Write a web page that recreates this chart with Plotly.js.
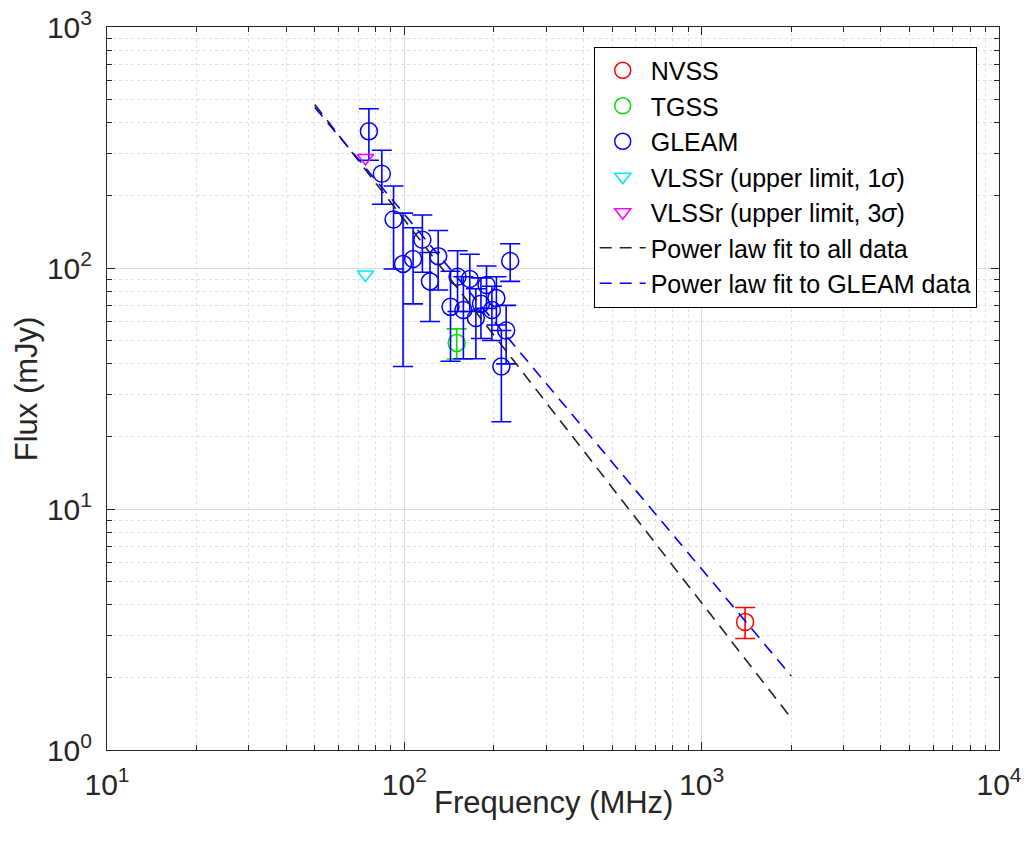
<!DOCTYPE html>
<html><head><meta charset="utf-8">
<script src="https://cdn.plot.ly/plotly-3.0.1.min.js"></script>
<style>html,body{margin:0;padding:0;background:#fff}</style>
</head><body><div id="chart" style="width:1026px;height:852px"></div>
<script>
// ---- data ----
const nvssFreq = [1400];
const nvssFlux = [3.4];
const nvssErr = [0.5];

const tgssFreq = [150];
const tgssFlux = [48.9];
const tgssErr = [7];

const gleamFreq = [76, 84, 92, 99, 107, 115, 122, 130, 143, 151, 158, 166, 174, 181, 189, 197, 204, 212, 220, 227];
const gleamFlux = [369, 246, 159, 104, 109, 131, 88, 112, 69, 92, 67, 90, 62, 71, 85, 67, 75, 39, 55, 107];
const gleamErr  = [89, 62, 60, 65, 38, 35, 28, 31, 28, 26, 25, 24, 20, 20, 17, 17, 17, 16, 15, 19];

const vlss1Freq = [74];
const vlss1Flux = [94];
const vlss3Freq = [74];
const vlss3Flux = [286];

const fitFreq = [50, 2000];
const fitAllFlux = [477, 1.355];
const fitGleamFlux = [464, 2.03];

const xTickVals = [10, 100, 1000, 10000];
const xTickText = ['10<sup>1</sup>', '10<sup>2</sup>', '10<sup>3</sup>', '10<sup>4</sup>'];
const yTickVals = [1, 10, 100, 1000];
const yTickText = ['10<sup>0</sup>', '10<sup>1</sup>', '10<sup>2</sup>', '10<sup>3</sup>'];

const xTitle = 'Frequency (MHz)';
const yTitle = 'Flux (mJy)';

// ---- helpers ----
function minorVals(lo, hi) {
  const v = [];
  for (let e = lo; e < hi; e++) for (let m = 2; m <= 9; m++) v.push(m * Math.pow(10, e));
  return v;
}
const FONT = 'Liberation Sans, Arial, Helvetica, sans-serif';
const AX = '#262626';

function pts(name, x, y, err, color, symbol, size) {
  const t = {
    type: 'scatter', mode: 'markers', name: name, x: x, y: y,
    marker: {symbol: symbol, size: size, color: color, line: {color: color, width: 1.5}},
    cliponaxis: false
  };
  if (err) t.error_y = {type: 'data', array: err, visible: true, color: color, thickness: 1.6, width: 10};
  return t;
}

const data = [
  pts('NVSS', nvssFreq, nvssFlux, nvssErr, '#ff0000', 'circle-open', 17),
  pts('TGSS', tgssFreq, tgssFlux, tgssErr, '#00e000', 'circle-open', 17),
  pts('GLEAM', gleamFreq, gleamFlux, gleamErr, '#0000ff', 'circle-open', 17),
  pts('VLSSr (upper limit, 1<i>σ</i>)', vlss1Freq, vlss1Flux, null, '#00e8f0', 'triangle-down-open', 14),
  pts('VLSSr (upper limit, 3<i>σ</i>)', vlss3Freq, vlss3Flux, null, '#ff00ff', 'triangle-down-open', 14),
  {type: 'scatter', mode: 'lines', name: 'Power law fit to all data', x: fitFreq, y: fitAllFlux,
   line: {color: '#222222', width: 1.6, dash: '12px,8px'}},
  {type: 'scatter', mode: 'lines', name: 'Power law fit to GLEAM data', x: fitFreq, y: fitGleamFlux,
   line: {color: '#0000ff', width: 1.6, dash: '12px,8px'}}
];

function axis(range, tv, tt, minorRange) {
  return {
    type: 'log', range: range, tickmode: 'array', tickvals: tv, ticktext: tt,
    ticks: 'inside', ticklen: 8, tickwidth: 1, tickcolor: AX,
    showline: true, linecolor: AX, linewidth: 1, mirror: 'ticks',
    showgrid: true, gridcolor: '#dcdcdc', gridwidth: 1,
    zeroline: false,
    minor: {tickmode: 'array', tickvals: minorVals(minorRange[0], minorRange[1]),
            ticks: 'inside', ticklen: 5, tickcolor: AX,
            showgrid: true, gridcolor: '#e0e0e0', griddash: 'dot', gridwidth: 1},
    tickfont: {family: FONT, size: 30, color: AX},
    ticklabelstandoff: 8
  };
}

const layout = {
  width: 1026, height: 852,
  margin: {l: 107, r: 27, t: 27, b: 102},
  paper_bgcolor: '#ffffff', plot_bgcolor: '#ffffff',
  showlegend: true,
  xaxis: axis([1, 4], xTickVals, xTickText, [1, 4]),
  yaxis: axis([0, 3], yTickVals, yTickText, [0, 3]),
  annotations: [
    {text: xTitle, xref: 'paper', yref: 'paper', x: 0.5, y: -0.072, xanchor: 'center', yanchor: 'middle',
     showarrow: false, font: {family: FONT, size: 31, color: AX}},
    {text: yTitle, xref: 'paper', yref: 'paper', x: -0.090, y: 0.5, xanchor: 'center', yanchor: 'middle',
     textangle: -90, showarrow: false, font: {family: FONT, size: 31, color: AX}}
  ],
  legend: {
    x: 0.975, xanchor: 'right', y: 0.973, yanchor: 'top',
    bgcolor: '#ffffff', bordercolor: '#000000', borderwidth: 1,
    font: {family: FONT, size: 25, color: '#000000'},
    itemwidth: 46, tracegroupgap: 0
  }
};

Plotly.newPlot('chart', data, layout, {displayModeBar: false, staticPlot: true});
</script>
</body></html>
